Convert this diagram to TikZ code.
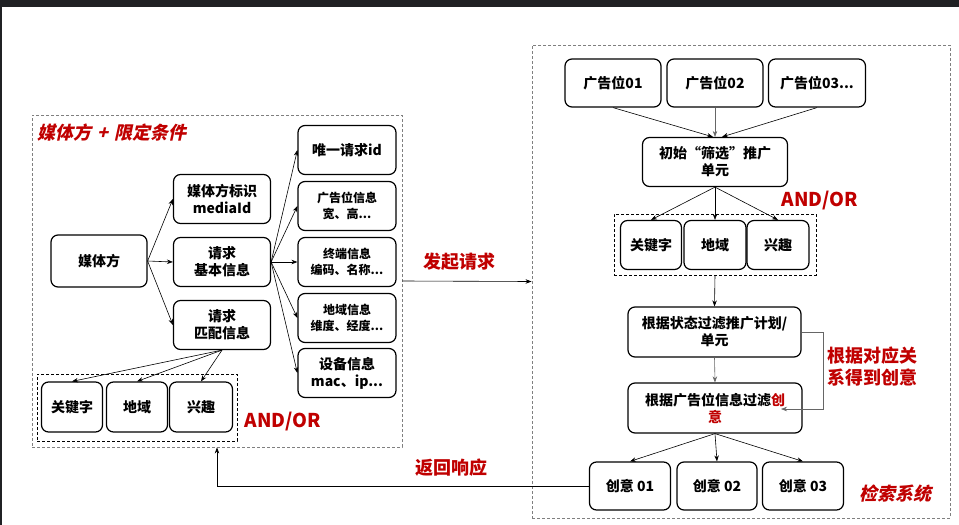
\documentclass[tikz,border=0pt]{standalone}
\usepackage{fontspec}
\setmainfont{Noto Sans CJK SC}
\newfontfamily\slantfont[FakeSlant=0.22]{Noto Sans CJK SC}
\usetikzlibrary{arrows.meta}
\definecolor{hl}{HTML}{C00000}
\definecolor{topbar}{HTML}{202124}
\definecolor{panelgray}{HTML}{7F7F7F}
\newcommand{\fsz}[2]{\fontsize{#1}{#2}\selectfont}
\tikzset{
  box/.style={draw, line width=1.2pt, rounded corners=7pt, fill=white,
    align=center, inner sep=0pt, font=\bfseries\fsz{14}{17}},
  smallbox/.style={box, font=\bfseries\fsz{12}{16}},
  panel/.style={draw=panelgray, line width=0.9pt, dash pattern=on 3pt off 2pt, inner sep=0pt},
  group/.style={draw=black, line width=0.8pt, dash pattern=on 3pt off 2pt, inner sep=0pt},
  arr/.style={draw=black, line width=0.6pt, -{Stealth[length=6pt,width=4.5pt]}},
  arrg/.style={arr, draw=gray!80!black},
  redlabel/.style={text=hl, font=\bfseries\fsz{18}{22}, align=center, inner sep=0pt},
  redslant/.style={text=hl, font=\slantfont\bfseries\fsz{18}{22}, inner sep=0pt},
}
\begin{document}
\begin{tikzpicture}[x=1pt, y=-1pt]
\useasboundingbox (0,0) rectangle (959,525);
\fill[white] (0,0) rectangle (959,525);
% window frame
\fill[topbar] (0,0) rectangle (959,7);
\fill[topbar] (0,0) rectangle (2,525);

% ---------- media side ----------
\node[panel, minimum width=370pt, minimum height=332pt] (leftpanel) at (217,281) {};
\node[redslant, anchor=west] (ttl) at (37,133) {媒体方\hspace{6pt}+\hspace{6pt}限定条件};

\node[box, minimum width=96pt, minimum height=52pt] (media) at (99,261) {媒体方};
\node[box, minimum width=97pt, minimum height=49pt] (mid) at (222,199) {媒体方标识\\mediaId};
\node[box, minimum width=97pt, minimum height=49pt] (basic) at (222,262) {请求\\基本信息};
\node[box, minimum width=97pt, minimum height=49pt] (match) at (222,325) {请求\\匹配信息};

\node[box, minimum width=98pt, minimum height=49pt] (uid) at (347,150) {唯一请求id};
\node[smallbox, minimum width=98pt, minimum height=49pt] (adpos) at (347,206) {广告位信息\\宽、高...};
\node[smallbox, minimum width=98pt, minimum height=49pt] (term) at (347,262) {终端信息\\编码、名称...};
\node[smallbox, minimum width=98pt, minimum height=49pt] (geo) at (347,318) {地域信息\\维度、经度...};
\node[box, minimum width=98pt, minimum height=49pt] (dev) at (347,373) {设备信息\\mac、ip...};

\node[group, minimum width=200pt, minimum height=67pt] (lgroup) at (137,407.5) {};
\node[box, minimum width=61pt, minimum height=50pt] (lk) at (72,407) {关键字};
\node[box, minimum width=61pt, minimum height=50pt] (lr) at (137,407) {地域};
\node[box, minimum width=63pt, minimum height=50pt] (li) at (201,407) {兴趣};
\node[redlabel, font=\bfseries\fsz{19}{22}] (ao1) at (283,422) {AND/OR};

\draw[arr] (media.east) -- (mid.west);
\draw[arr] (media.east) -- (basic.west);
\draw[arr] (media.east) -- (match.west);
\draw[arr] (basic.east) -- (uid.west);
\draw[arr] (basic.east) -- (adpos.west);
\draw[arr] (basic.east) -- (term.west);
\draw[arr] (basic.east) -- (geo.west);
\draw[arr] (basic.east) -- (dev.west);
\draw[arr] (match.south) -- (lk.north);
\draw[arr] (match.south) -- (lr.north);
\draw[arr] (match.south) -- (li.north);

% ---------- retrieval system ----------
\node[panel, minimum width=418pt, minimum height=473pt] (rightpanel) at (741,281.5) {};

\node[box, minimum width=96pt, minimum height=48pt] (p1) at (613,83) {广告位01};
\node[box, minimum width=96pt, minimum height=48pt] (p2) at (715,83) {广告位02};
\node[box, minimum width=97pt, minimum height=48pt] (p3) at (817,83) {广告位03...};
\node[box, minimum width=145pt, minimum height=49pt] (init) at (715,162) {初始“筛选”推广\\单元};
\node[redlabel, font=\bfseries\fsz{19}{22}] (ao2) at (820,201) {AND/OR};

\node[group, minimum width=202pt, minimum height=61pt] (rgroup) at (715,244.5) {};
\node[box, minimum width=61pt, minimum height=49pt] (rk) at (651,245) {关键字};
\node[box, minimum width=62pt, minimum height=49pt] (rr) at (715,245) {地域};
\node[box, minimum width=62pt, minimum height=49pt] (ri) at (778,245) {兴趣};

\node[box, minimum width=173pt, minimum height=50pt] (state) at (714.5,332) {根据状态过滤推广计划/\\单元};
\node[box, minimum width=174pt, minimum height=50pt] (crea) at (715,408) {根据广告位信息过滤\textcolor{hl}{创}\\\textcolor{hl}{意}};
\node[redlabel] (note) at (872,367) {根据对应关\\系得到创意};

\node[box, minimum width=81pt, minimum height=48pt] (c1) at (630,486) {创意 01};
\node[box, minimum width=80pt, minimum height=48pt] (c2) at (717,486) {创意 02};
\node[box, minimum width=81pt, minimum height=48pt] (c3) at (803,486) {创意 03};
\node[redslant] (sys) at (895,494) {检索系统};

\draw[arr] (p1.south) -- ([xshift=-2pt]init.north);
\draw[arrg] (p2.south) -- (init.north);
\draw[arr] (p3.south) -- ([xshift=7pt]init.north);
\draw[arr] (init.south) -- (rk.north);
\draw[arr] (init.south) -- (rr.north);
\draw[arr] (init.south) -- (ri.north);
\draw[arr] (rgroup.south) -- (state.north);
\draw[arrg] (state.south) -- (crea.north);
\coordinate (tipc) at (781,409);
\draw[arrg] (state.east) -- ++(22,0) |- (tipc);
\draw[arr] (crea.south) -- (c1.north);
\draw[arr] (crea.south) -- (c2.north);
\draw[arr] (crea.south) -- (c3.north);

% ---------- request / response ----------
\draw[arr] (leftpanel.east) -- (rightpanel.west);
\node[redlabel] (req) at (459,262) {发起请求};
\draw[arr] (c1.west) -| (leftpanel.south);
\node[redlabel] (resp) at (451,468) {返回响应};
\end{tikzpicture}
\end{document}
